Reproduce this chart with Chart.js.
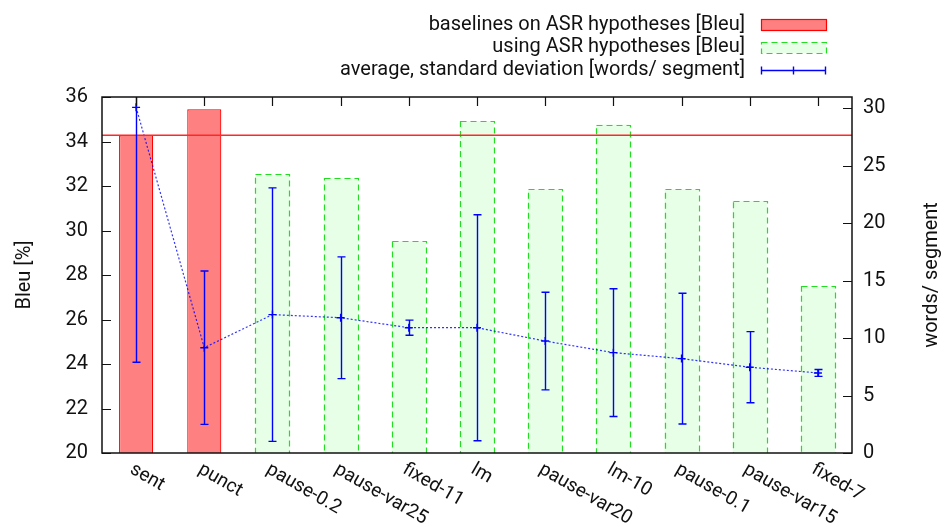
<!DOCTYPE html>
<html>
<head>
<meta charset="utf-8">
<script src="https://cdn.jsdelivr.net/npm/chart.js@4.4.1/dist/chart.umd.min.js"></script>
<style>
  html, body { margin: 0; padding: 0; background: #fff; }
  #wrap { width: 946px; height: 527px; }
</style>
</head>
<body>
<div id="wrap"><canvas id="chart" width="946" height="527"></canvas></div>
<script>
// segmentation methods on the x axis
const categories = ['sent', 'punct', 'pause-0.2', 'pause-var25', 'fixed-11', 'lm',
                    'pause-var20', 'lm-10', 'pause-0.1', 'pause-var15', 'fixed-7'];

// Bleu [%] of the two baselines and of the automatic segmentations
const baselineBleu = [34.28, 35.45, null, null, null, null, null, null, null, null, null];
const asrBleu      = [null, null, 32.52, 32.36, 29.53, 34.91, 31.85, 34.76, 31.85, 31.34, 27.49];

// segment length in words: mean and standard deviation
const wordsAvg = [30.1, 9.17, 12.05, 11.78, 10.91, 10.91, 9.75, 8.74, 8.22, 7.47, 6.97];
const wordsStd = [22.2, 6.68, 11.04, 5.30, 0.66, 9.84, 4.25, 5.56, 5.69, 3.10, 0.30];

// tick values of the right axis
const wordsTicks = [0, 5, 10, 15, 20, 25, 30];

// reference level drawn across the plot (the "sent" baseline)
const baselineLevel = 34.28;

const legendLabels = [
    'baselines on ASR hypotheses [Bleu]',
    'using ASR hypotheses [Bleu]',
    'average, standard deviation [words/ segment]'
];

const FONT = 'Roboto, "Liberation Sans", sans-serif';
const RED = '#ff0000';
const RED_FILL = '#ff8080';
const GREEN = '#22dd22';
const GREEN_FILL = '#e6ffe6';
const BLUE = '#0000ff';

function dashedRect(ctx, x, y, w, h) {
    ctx.save();
    ctx.setLineDash([6, 4]);
    ctx.strokeStyle = GREEN;
    ctx.lineWidth = 1.2;
    ctx.strokeRect(x, y, w, h);
    ctx.restore();
}

const gnuplotLook = {
    id: 'gnuplotLook',
    afterDatasetDraw(chart, args) {
        // dashed outline for the ASR bars
        if (args.index !== 2) return;
        const ctx = chart.ctx;
        const area = chart.chartArea;
        args.meta.data.forEach((bar, i) => {
            if (asrBleu[i] == null) return;
            const p = bar.getProps(['x', 'y', 'width', 'base'], true);
            ctx.save();
            ctx.beginPath();
            ctx.rect(area.left, area.top, area.right - area.left, area.bottom - area.top);
            ctx.clip();
            dashedRect(ctx, Math.round(p.x - p.width / 2) + 0.5, Math.round(p.y) + 0.5,
                       Math.round(p.width), p.base - p.y + 2);
            ctx.restore();
        });
    },
    afterDatasetsDraw(chart) {
        const ctx = chart.ctx;
        const area = chart.chartArea;
        const xs = chart.scales.x, ys = chart.scales.y, y2 = chart.scales.y2;

        // baseline level across the whole plot
        ctx.save();
        const by = ys.getPixelForValue(baselineLevel);
        ctx.strokeStyle = 'rgb(255, 40, 40)';
        ctx.lineWidth = 1.5;
        ctx.beginPath();
        ctx.moveTo(area.left, by);
        ctx.lineTo(area.right, by);
        ctx.stroke();
        ctx.restore();

        // error bars: mean +- standard deviation
        ctx.save();
        ctx.strokeStyle = BLUE;
        ctx.lineWidth = 1.4;
        wordsAvg.forEach((m, i) => {
            const x = Math.round(xs.getPixelForValue(i)) + 0.5;
            const hiRaw = y2.getPixelForValue(m + wordsStd[i]);
            const loRaw = y2.getPixelForValue(m - wordsStd[i]);
            const hi = Math.max(hiRaw, area.top);
            const lo = Math.min(loRaw, area.bottom);
            ctx.beginPath();
            ctx.moveTo(x, hi);
            ctx.lineTo(x, lo);
            if (hiRaw >= area.top) { ctx.moveTo(x - 4, hi); ctx.lineTo(x + 4, hi); }
            if (loRaw <= area.bottom) { ctx.moveTo(x - 4, lo); ctx.lineTo(x + 4, lo); }
            ctx.stroke();
        });
        ctx.restore();

        // frame and inward tics
        ctx.save();
        ctx.strokeStyle = '#111';
        ctx.lineWidth = 1.5;
        ctx.strokeRect(area.left, area.top, area.right - area.left, area.bottom - area.top);
        ctx.lineWidth = 1.2;
        ctx.beginPath();
        ys.ticks.forEach(t => {
            const y = Math.round(ys.getPixelForValue(t.value)) + 0.5;
            ctx.moveTo(area.left, y); ctx.lineTo(area.left + 9, y);
        });
        y2.ticks.forEach(t => {
            const y = Math.round(y2.getPixelForValue(t.value)) + 0.5;
            ctx.moveTo(area.right, y); ctx.lineTo(area.right - 9, y);
        });
        categories.forEach((c, i) => {
            const x = Math.round(xs.getPixelForValue(i)) + 0.5;
            ctx.moveTo(x, area.top); ctx.lineTo(x, area.top + 9);
        });
        ctx.stroke();
        ctx.restore();

        // rotated category labels
        ctx.save();
        ctx.fillStyle = '#111';
        ctx.font = '19px ' + FONT;
        ctx.textAlign = 'left';
        ctx.textBaseline = 'top';
        categories.forEach((c, i) => {
            const x = xs.getPixelForValue(i);
            ctx.save();
            ctx.translate(x, area.bottom + 7);
            ctx.rotate(Math.PI / 6);
            ctx.fillText(c, 0, 0);
            ctx.restore();
        });
        ctx.restore();

        // axis titles, both reading bottom to top
        ctx.save();
        ctx.fillStyle = '#111';
        ctx.font = '20px ' + FONT;
        ctx.textAlign = 'center';
        ctx.textBaseline = 'middle';
        const midY = (area.top + area.bottom) / 2;
        [[25, 'Bleu [%]'], [932, 'words/ segment']].forEach(([x, s]) => {
            ctx.save();
            ctx.translate(x, midY);
            ctx.rotate(-Math.PI / 2);
            ctx.fillText(s, 0, 0);
            ctx.restore();
        });
        ctx.restore();

        // key in the top right corner
        ctx.save();
        ctx.font = '20px ' + FONT;
        ctx.fillStyle = '#111';
        ctx.textAlign = 'right';
        ctx.textBaseline = 'middle';
        const rows = [25, 47, 70];
        legendLabels.forEach((s, k) => ctx.fillText(s, 745, rows[k]));
        const sx = 761, sw = 65;
        ctx.fillStyle = RED_FILL;
        ctx.fillRect(sx, rows[0] - 6, sw, 11);
        ctx.strokeStyle = RED;
        ctx.lineWidth = 1.2;
        ctx.strokeRect(sx + 0.5, rows[0] - 5.5, sw, 11);
        ctx.fillStyle = GREEN_FILL;
        ctx.fillRect(sx, rows[1] - 5, sw, 11);
        dashedRect(ctx, sx + 0.5, rows[1] - 4.5, sw, 11);
        ctx.strokeStyle = BLUE;
        ctx.lineWidth = 1.4;
        ctx.beginPath();
        ctx.moveTo(sx, rows[2] + 0.5); ctx.lineTo(sx + sw, rows[2] + 0.5);
        [sx + 0.5, sx + sw / 2, sx + sw - 0.5].forEach(x => {
            ctx.moveTo(x, rows[2] - 3.5); ctx.lineTo(x, rows[2] + 4.5);
        });
        ctx.stroke();
        ctx.restore();
    }
};

const tickFont = { family: FONT, size: 20 };

new Chart(document.getElementById('chart'), {
    data: {
        labels: categories,
        datasets: [
            {
                type: 'line',
                label: legendLabels[2],
                data: wordsAvg,
                yAxisID: 'y2',
                order: 0,
                borderColor: 'rgba(0, 0, 255, 0.8)',
                borderWidth: 1.2,
                borderDash: [2, 2],
                tension: 0,
                fill: false,
                pointStyle: 'cross',
                pointRadius: 4,
                pointBorderColor: BLUE,
                pointBorderWidth: 1.4,
                pointRotation: 0
            },
            {
                type: 'bar',
                label: legendLabels[0],
                data: baselineBleu,
                yAxisID: 'y',
                order: 1,
                backgroundColor: RED_FILL,
                borderColor: RED,
                borderWidth: 1.2,
                borderSkipped: 'bottom',
                barPercentage: 0.5,
                categoryPercentage: 1.0,
                grouped: false
            },
            {
                type: 'bar',
                label: legendLabels[1],
                data: asrBleu,
                yAxisID: 'y',
                order: 2,
                backgroundColor: GREEN_FILL,
                borderWidth: 0,
                barPercentage: 0.5,
                categoryPercentage: 1.0,
                grouped: false
            }
        ]
    },
    options: {
        responsive: false,
        devicePixelRatio: 1,
        animation: false,
        layout: { padding: { top: 97, left: 0, right: 0, bottom: 0 } },
        plugins: { legend: { display: false }, tooltip: { enabled: false } },
        scales: {
            x: {
                type: 'category',
                offset: true,
                grid: { display: false, drawTicks: false },
                border: { display: false },
                ticks: { display: false },
                afterFit: s => { s.height = 74; }
            },
            y: {
                position: 'left',
                min: 20,
                max: 36,
                ticks: { stepSize: 2, padding: 14, color: '#111', font: tickFont },
                grid: { display: false, drawTicks: false },
                border: { display: false },
                afterFit: s => { s.width = 102; }
            },
            y2: {
                position: 'right',
                min: 0,
                max: 31,
                ticks: { padding: 11, color: '#111', font: tickFont },
                grid: { display: false, drawTicks: false },
                border: { display: false },
                afterBuildTicks: s => { s.ticks = wordsTicks.map(v => ({ value: v })); },
                afterFit: s => { s.width = 94; }
            }
        }
    },
    plugins: [gnuplotLook]
});
</script>
</body>
</html>
